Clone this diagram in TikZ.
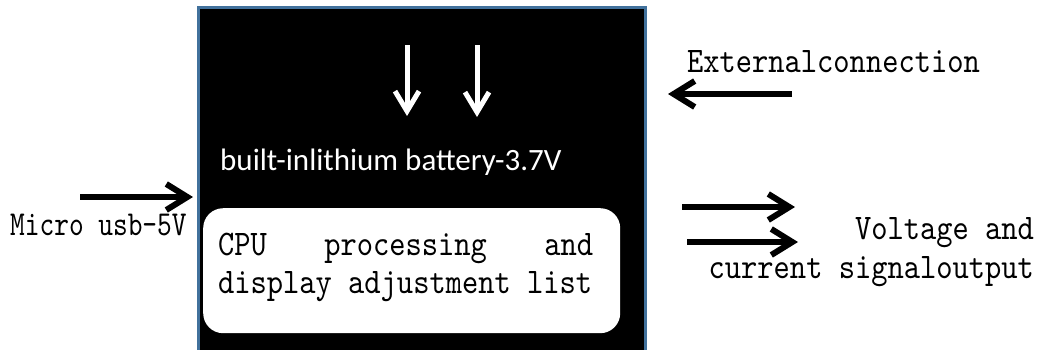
\documentclass[tikz,border=0pt]{standalone}
\usepackage{fontspec}
\usetikzlibrary{arrows.meta}
\newfontfamily\simfont[FakeStretch=0.86]{lmmono10-regular.otf}
\newfontfamily\simfontn[FakeStretch=0.80]{lmmono10-regular.otf}
\newfontfamily\calfont{Carlito}
\definecolor{boxblue}{HTML}{41719C}
\begin{document}
\begin{tikzpicture}[x=1pt,y=-1pt,
  blackarrow/.style={draw=black, line width=6pt,
    -{Straight Barb[length=21pt,width=26pt,line width=6pt]}},
  whitearrow/.style={draw=white, line width=5pt,
    -{Straight Barb[length=20pt,width=24pt,line width=5pt]}},
  label/.style={inner sep=0pt, font=\simfont\fontsize{36}{32}\selectfont},
]
\useasboundingbox (0,0) rectangle (1044,349);
\clip (0,0) rectangle (1044,349);
% main box
\draw[draw=boxblue, line width=2.7pt, fill=black] (198.7,370) -- (198.7,7.3) -- (645.3,7.3) -- (645.3,370);
% CPU box
\node[fill=white, rounded corners=20pt, minimum width=417pt, minimum height=125pt, inner sep=0pt, anchor=north west] (cpu) at (203,208) {};
\node[label, anchor=base west] (cpu1) at (218,255)
  {\makebox[375pt]{CPU\hfill processing\hfill and}};
\node[label, anchor=base west] (cpu2) at (218,293) {display adjustment list};
% battery text
\node[inner sep=0pt, anchor=base west, text=white, font=\calfont\fontsize{31}{32}\selectfont] (battery) at (220,170) {built-inlithium battery-3.7V};
% white arrows
\coordinate (w1s) at (407,45); \coordinate (w1e) at (407,116);
\coordinate (w2s) at (477,45); \coordinate (w2e) at (477,117);
\draw[whitearrow] (w1s) -- (w1e);
\draw[whitearrow] (w2s) -- (w2e);
% micro usb
\node[inner sep=0pt, anchor=base west, font=\simfontn\fontsize{35}{32}\selectfont] (micro) at (10,235) {Micro usb-5V};
\coordinate (ms) at (80,197); \coordinate (me) at (193,197);
\draw[blackarrow] (ms) -- (me);
% external
\node[label, anchor=base west] (ext) at (687,72) {Externalconnection};
\coordinate (es) at (792,94); \coordinate (ee) at (668,94);
\draw[blackarrow] (es) -- (ee);
% outputs
\node[label, anchor=base east] (out1) at (1034,239) {Voltage and};
\node[label, anchor=base east] (out2) at (1034,278) {current signaloutput};
\coordinate (o1s) at (682,207); \coordinate (o1e) at (795,207);
\coordinate (o2s) at (687,242); \coordinate (o2e) at (798,242);
\draw[blackarrow] (o1s) -- (o1e);
\draw[blackarrow] (o2s) -- (o2e);
\end{tikzpicture}
\end{document}
